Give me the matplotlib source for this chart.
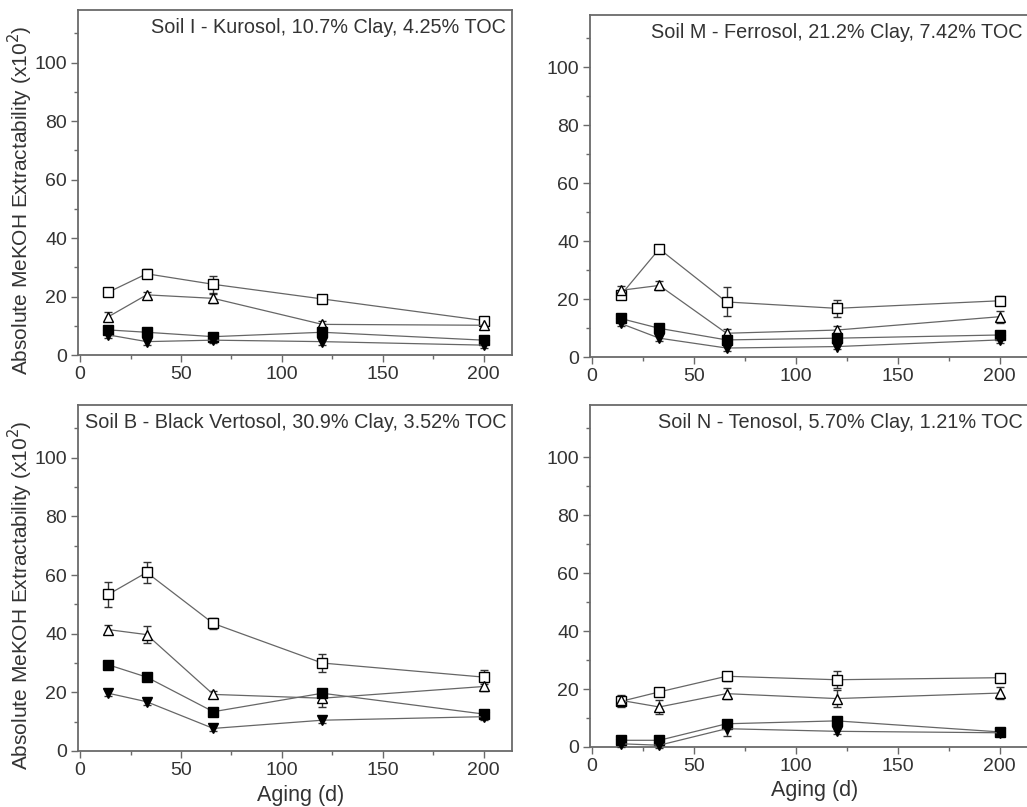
import numpy as np
import matplotlib
matplotlib.use('Agg')
import matplotlib.pyplot as plt
from matplotlib.ticker import MultipleLocator

plt.rcParams['font.family'] = ['Liberation Sans', 'DejaVu Sans']

# ---Aging times [d]
aging = [14, 33, 66, 120, 200]

# ---Panel titles
titles = [
    'Soil I - Kurosol, 10.7% Clay, 4.25% TOC',
    'Soil M - Ferrosol, 21.2% Clay, 7.42% TOC',
    'Soil B - Black Vertosol, 30.9% Clay, 3.52% TOC',
    'Soil N - Tenosol, 5.70% Clay, 1.21% TOC',
]

# ---Soil I
i_open_sq = [21.5, 27.8, 24.2, 19.2, 11.8]
i_open_tri = [13.1, 20.6, 19.4, 10.5, 10.2]
i_fill_sq = [8.6, 7.8, 6.3, 7.8, 5.1]
i_fill_tri = [6.9, 4.6, 5.1, 4.6, 3.4]
i_err_sq = [1.0, 1.5, 3.0, 1.0, 1.0]
i_err_tri = [1.5, 1.0, 1.5, 1.0, 1.0]
i_err_fsq = [1.0, 1.0, 1.0, 1.0, 1.0]
i_err_ftri = [1.0, 1.0, 1.0, 1.0, 1.0]

# ---Soil M
m_open_sq = [21.3, 37.3, 19.0, 16.8, 19.4]
m_open_tri = [23.0, 24.7, 8.2, 9.3, 13.9]
m_fill_sq = [13.3, 9.9, 5.9, 6.5, 7.6]
m_fill_tri = [11.6, 6.5, 3.1, 3.6, 5.9]
m_err_sq = [1.0, 1.0, 5.0, 3.0, 1.5]
m_err_tri = [1.5, 1.5, 1.5, 1.5, 2.0]
m_err_fsq = [1.0, 1.0, 1.0, 1.0, 1.0]
m_err_ftri = [1.0, 1.0, 1.0, 1.0, 1.0]

# ---Soil B
b_open_sq = [53.4, 60.9, 43.5, 30.0, 25.2]
b_open_tri = [41.4, 39.7, 19.3, 18.0, 22.0]
b_fill_sq = [29.4, 25.2, 13.4, 19.7, 12.6]
b_fill_tri = [19.7, 16.8, 7.7, 10.5, 11.7]
b_err_sq = [4.3, 3.5, 2.0, 3.0, 2.5]
b_err_tri = [1.5, 3.0, 1.0, 3.0, 1.5]
b_err_fsq = [1.0, 1.0, 1.0, 1.0, 1.0]
b_err_ftri = [1.0, 1.0, 1.0, 1.0, 1.0]

# ---Soil N
n_open_sq = [15.7, 19.0, 24.4, 23.2, 23.9]
n_open_tri = [16.1, 13.8, 18.4, 16.7, 18.6]
n_fill_sq = [2.3, 2.3, 8.0, 9.0, 5.2]
n_fill_tri = [1.1, 0.6, 6.3, 5.4, 4.9]
n_err_sq = [2.0, 1.0, 1.5, 3.0, 1.0]
n_err_tri = [2.0, 2.5, 2.0, 3.0, 2.0]
n_err_fsq = [1.0, 1.0, 1.0, 1.0, 1.0]
n_err_ftri = [1.0, 1.0, 2.5, 1.0, 1.0]

panels = [
    (i_open_sq, i_open_tri, i_fill_sq, i_fill_tri, i_err_sq, i_err_tri, i_err_fsq, i_err_ftri),
    (m_open_sq, m_open_tri, m_fill_sq, m_fill_tri, m_err_sq, m_err_tri, m_err_fsq, m_err_ftri),
    (b_open_sq, b_open_tri, b_fill_sq, b_fill_tri, b_err_sq, b_err_tri, b_err_fsq, b_err_ftri),
    (n_open_sq, n_open_tri, n_fill_sq, n_fill_tri, n_err_sq, n_err_tri, n_err_fsq, n_err_ftri),
]

# ---Axes boxes [left, bottom, width, height] in figure fraction
boxes = [
    [0.076, 0.560, 0.4225, 0.4276],
    [0.5745, 0.5576, 0.4265, 0.4238],
    [0.076, 0.0694, 0.4225, 0.4287],
    [0.5745, 0.0744, 0.4265, 0.4237],
]

text_col = '#333333'
line_col = '#666666'
spine_col = '#6a6a6a'

styles = [
    dict(marker='s', mfc='white'),
    dict(marker='^', mfc='white'),
    dict(marker='s', mfc='black'),
    dict(marker='v', mfc='black'),
]

fig = plt.figure(figsize=(10.27, 8.07), dpi=100)

for k, (box, data) in enumerate(zip(boxes, panels)):
    ax = fig.add_axes(box)
    series = data[:4]
    errs = data[4:]
    for y, e, st in zip(series, errs, styles):
        ax.errorbar(aging, y, yerr=e, color=line_col, lw=0.9,
                    marker=st['marker'], mfc=st['mfc'], mec='black',
                    mew=1.0, ms=7, ecolor='#333333', elinewidth=1.0,
                    capsize=3, capthick=1.0, clip_on=False, zorder=3)

    ax.set_xlim(-1, 214)
    ax.set_ylim(0, 118)
    ax.xaxis.set_major_locator(MultipleLocator(50))
    ax.xaxis.set_minor_locator(MultipleLocator(25))
    ax.yaxis.set_minor_locator(MultipleLocator(10))
    ax.set_yticks([0, 20, 40, 60, 80, 100])
    ax.tick_params(axis='both', which='major', direction='out', length=5,
                   width=1.0, color=spine_col, labelsize=14,
                   labelcolor=text_col, pad=3)
    ax.tick_params(axis='both', which='minor', direction='out', length=3,
                   width=1.0, color=spine_col)
    for sp in ax.spines.values():
        sp.set_color(spine_col)
        sp.set_linewidth(1.3)

    ax.text(0.987, 0.978, titles[k], transform=ax.transAxes, ha='right',
            va='top', fontsize=14.3, color=text_col)

    if k % 2 == 0:
        ax.set_ylabel('Absolute MeKOH Extractability (x10$^2$)', fontsize=15,
                      color=text_col)
        ax.yaxis.set_label_coords(-0.10, 0.45)
    if k >= 2:
        ax.set_xlabel('Aging (d)', fontsize=15.5, color=text_col)
        ax.xaxis.set_label_coords(0.512, -0.098)

fig.savefig('out.png', dpi=100)
